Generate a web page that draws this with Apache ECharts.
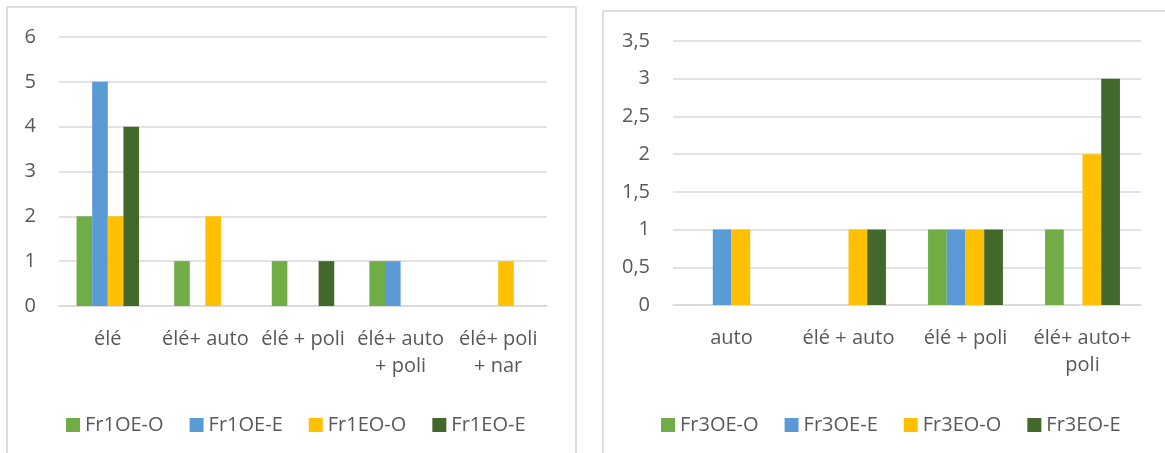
<!DOCTYPE html>
<html>
<head>
<meta charset="utf-8">
<script src="https://cdn.jsdelivr.net/npm/echarts@6/dist/echarts.min.js"></script>
<style>
  html, body { margin: 0; padding: 0; background: #fff; }
  #chart { width: 1165px; height: 453px; }
</style>
</head>
<body>
<div id="chart"></div>
<script>
var leftCats = ["élé", "élé+ auto", "élé + poli", "élé+ auto\n+ poli", "élé+ poli\n+ nar"];
var leftNames = ["Fr1OE-O", "Fr1OE-E", "Fr1EO-O", "Fr1EO-E"];
var fr1OE_O = [2, 1, 1, 1, 0];
var fr1OE_E = [5, 0, 0, 1, 0];
var fr1EO_O = [2, 2, 0, 0, 1];
var fr1EO_E = [4, 0, 1, 0, 0];

var rightCats = ["auto", "élé + auto", "élé + poli", "élé+ auto+\npoli"];
var rightNames = ["Fr3OE-O", "Fr3OE-E", "Fr3EO-O", "Fr3EO-E"];
var fr3OE_O = [0, 0, 1, 1];
var fr3OE_E = [1, 0, 1, 0];
var fr3EO_O = [1, 1, 1, 2];
var fr3EO_E = [0, 1, 1, 3];

var colors = ["#70ad47", "#5b9bd5", "#ffc000", "#43682b"];
var font = "Open Sans";
var txt = "#595959";
var grid = "#d9d9d9";

var chart = echarts.init(document.getElementById("chart"));

function xAx(idx, cats) {
  return {
    type: "category",
    gridIndex: idx,
    data: cats,
    axisLine: { lineStyle: { color: grid, width: 1.5 } },
    axisTick: { show: false },
    axisLabel: {
      interval: 0, margin: 20, color: txt, fontFamily: font,
      fontSize: 20, lineHeight: 27
    }
  };
}

function yAx(idx, max, step) {
  return {
    type: "value",
    gridIndex: idx,
    min: 0, max: max, interval: step,
    axisLine: { show: false },
    axisTick: { show: false },
    splitLine: { lineStyle: { color: grid, width: 1.5 } },
    axisLabel: {
      margin: 23, color: txt, fontFamily: font, fontSize: 20,
      formatter: function (v) { return String(v).replace(".", ","); }
    }
  };
}

function bar(name, data, i, axis) {
  return {
    name: name, type: "bar", data: data,
    xAxisIndex: axis, yAxisIndex: axis,
    itemStyle: { color: colors[i] },
    barGap: 0, barCategoryGap: "36%"
  };
}

function legend(names, left) {
  return {
    data: names, left: left, top: 410,
    icon: "rect", itemWidth: 14, itemHeight: 14, itemGap: 26,
    textStyle: { color: txt, fontFamily: font, fontSize: 20, lineHeight: 20 }
  };
}

chart.setOption({
  animation: false,
  graphic: [
    { type: "rect", shape: { x: 7, y: 7, width: 569, height: 460 },
      style: { fill: null, stroke: "#d4d4d4", lineWidth: 1.5 } },
    { type: "rect", shape: { x: 603, y: 11, width: 600, height: 460 },
      style: { fill: null, stroke: "#d4d4d4", lineWidth: 1.5 } }
  ],
  legend: [legend(leftNames, 61), legend(rightNames, 656)],
  grid: [
    { left: 59, top: 37, width: 488, height: 269 },
    { left: 673, top: 41, width: 468, height: 264 }
  ],
  xAxis: [xAx(0, leftCats), xAx(1, rightCats)],
  yAxis: [yAx(0, 6, 1), yAx(1, 3.5, 0.5)],
  series: [
    bar(leftNames[0], fr1OE_O, 0, 0),
    bar(leftNames[1], fr1OE_E, 1, 0),
    bar(leftNames[2], fr1EO_O, 2, 0),
    bar(leftNames[3], fr1EO_E, 3, 0),
    bar(rightNames[0], fr3OE_O, 0, 1),
    bar(rightNames[1], fr3OE_E, 1, 1),
    bar(rightNames[2], fr3EO_O, 2, 1),
    bar(rightNames[3], fr3EO_E, 3, 1)
  ]
});
</script>
</body>
</html>
